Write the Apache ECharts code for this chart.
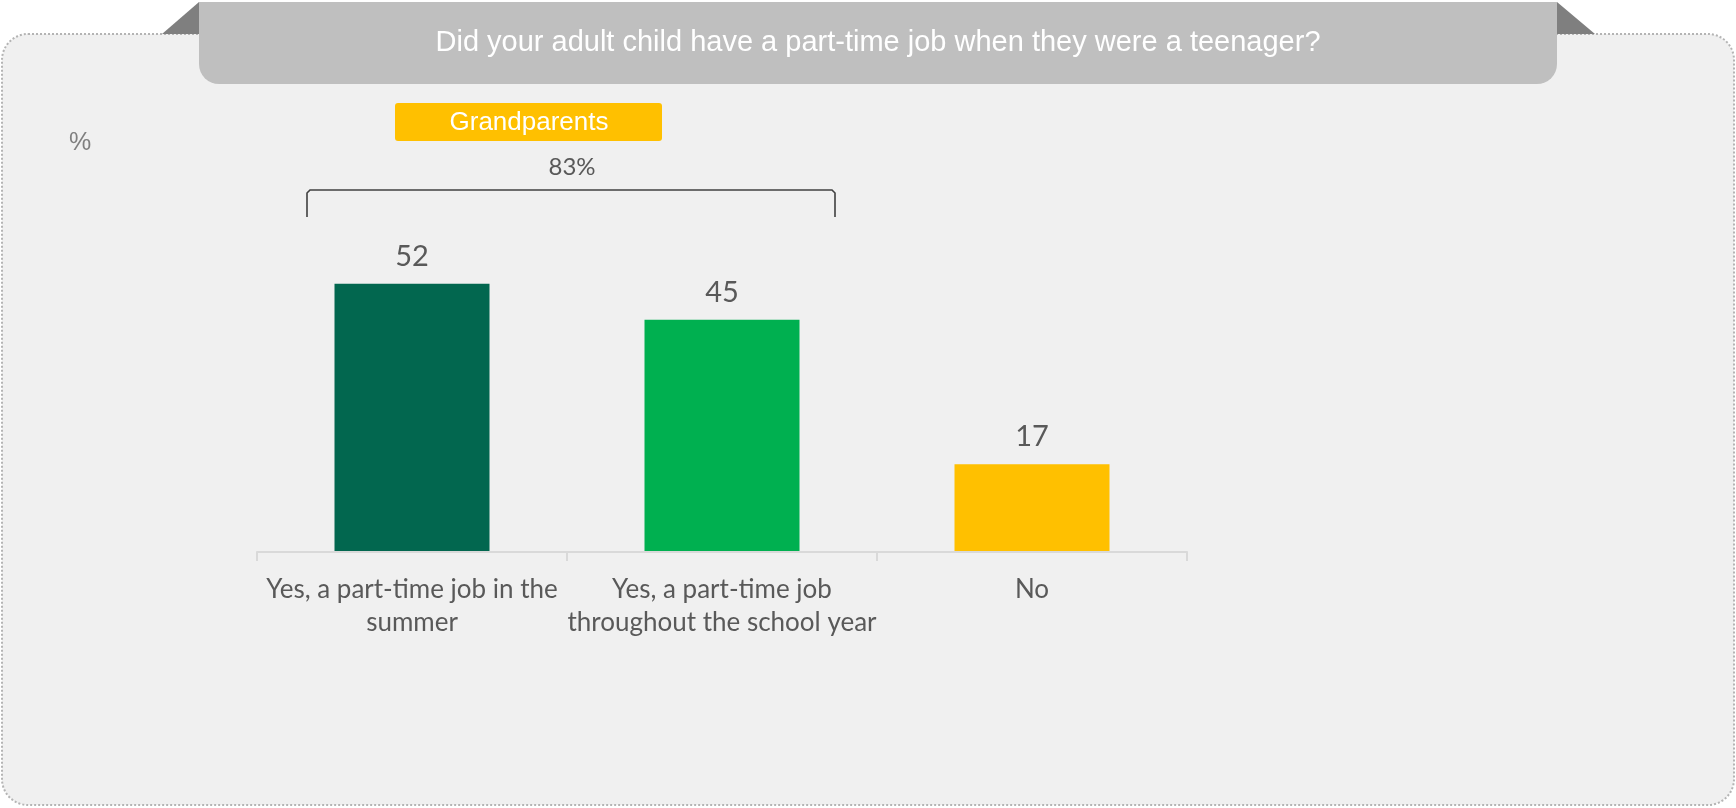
<!DOCTYPE html>
<html>
<head>
<meta charset="utf-8">
<title>Part-time job as a teenager</title>
<script src="https://cdn.jsdelivr.net/npm/echarts@6/dist/echarts.min.js"></script>
<style>
  html, body { margin: 0; padding: 0; background: #ffffff; }
  #chart { width: 1736px; height: 808px; }
</style>
</head>
<body>
<div id="chart"></div>
<script>
// Survey question and answers
const questionText = 'Did your adult child have a part-time job when they were a teenager?';
const groupName = 'Grandparents';
const unitLabel = '%';
const categories = [
  'Yes, a part-time job in the\nsummer',
  'Yes, a part-time job\nthroughout the school year',
  'No'
];
const values = [52, 45, 17];
const barColors = ['#02674F', '#00B050', '#FFC000'];
// Net share answering "yes" (bracket over the first two answers)
const netYesLabel = '83%';
const netYesRange = [0, 1];

const chart = echarts.init(document.getElementById('chart'), null, { renderer: 'canvas' });

const textGrey = '#595959';
const bodyFont = 'Lato, "Open Sans", sans-serif';
const headFont = '"Liberation Sans", Arial, sans-serif';

const option = {
  animation: false,
  backgroundColor: '#ffffff',
  grid: { left: 257, right: 549, top: 36, bottom: 256, containLabel: false },
  xAxis: {
    type: 'category',
    data: categories,
    axisLine: { show: true, lineStyle: { color: '#D9D9D9', width: 2 } },
    axisTick: { show: true, length: 9, lineStyle: { color: '#D9D9D9', width: 2 } },
    axisLabel: {
      color: textGrey,
      fontFamily: bodyFont,
      fontSize: 26,
      lineHeight: 33,
      margin: 21,
      interval: 0
    },
    z: 5
  },
  yAxis: {
    type: 'value',
    min: 0,
    max: 100,
    show: false,
    splitLine: { show: false }
  },
  series: [{
    type: 'bar',
    barWidth: '50%',
    data: values.map((v, i) => ({ value: v, itemStyle: { color: barColors[i] } })),
    label: {
      show: true,
      position: 'top',
      distance: 13,
      color: textGrey,
      fontFamily: bodyFont,
      fontSize: 29
    },
    z: 3
  }],
  graphic: []
};

chart.setOption(option);

// Annotation layer: panel, header tab, group badge, unit and the net bracket
function buildGraphics() {
  const c0 = chart.convertToPixel({ xAxisIndex: 0 }, categories[netYesRange[0]]);
  const c1 = chart.convertToPixel({ xAxisIndex: 0 }, categories[netYesRange[1]]);
  const band = c1 - c0;
  const bx0 = Math.round(c0 - 0.34 * band);
  const bx1 = Math.round(c1 + 0.365 * band);
  const byTop = 190, byBot = 217, r = 3;

  return [
    // rounded panel with dotted border
    {
      type: 'rect', z: -10, silent: true,
      shape: { x: 2, y: 34, width: 1732, height: 771, r: 26 },
      style: { fill: '#F0F0F0', stroke: '#B4B4B4', lineWidth: 2, lineDash: [2, 2] }
    },
    // folded corners of the header tab
    {
      type: 'polygon', z: -5, silent: true,
      shape: { points: [[162, 34], [199, 34], [199, 2]] },
      style: { fill: '#7F7F7F' }
    },
    {
      type: 'polygon', z: -5, silent: true,
      shape: { points: [[1557, 2], [1557, 34], [1595, 34]] },
      style: { fill: '#7F7F7F' }
    },
    // header tab
    {
      type: 'rect', z: -4, silent: true,
      shape: { x: 199, y: 2, width: 1358, height: 82, r: [0, 0, 20, 20] },
      style: { fill: '#BFBFBF' }
    },
    {
      type: 'text', z: 10, silent: true,
      x: 878, y: 43,
      style: {
        text: questionText, fill: '#FFFFFF',
        font: '29px ' + headFont,
        align: 'center', verticalAlign: 'middle'
      }
    },
    // group badge
    {
      type: 'rect', z: 2, silent: true,
      shape: { x: 395, y: 103, width: 267, height: 38, r: 3 },
      style: { fill: '#FFC000' }
    },
    {
      type: 'text', z: 10, silent: true,
      x: 529, y: 123,
      style: {
        text: groupName, fill: '#FFFFFF',
        font: '26px ' + headFont,
        align: 'center', verticalAlign: 'middle'
      }
    },
    // unit
    {
      type: 'text', z: 10, silent: true,
      x: 80, y: 143,
      style: {
        text: unitLabel, fill: '#7F7F7F',
        font: '25px ' + headFont,
        align: 'center', verticalAlign: 'middle'
      }
    },
    // net bracket: a line with its ends turned down
    {
      type: 'polyline', z: 10, silent: true,
      shape: {
        points: [
          [bx0, byBot], [bx0, byTop + r], [bx0 + r, byTop],
          [bx1 - r, byTop], [bx1, byTop + r], [bx1, byBot]
        ]
      },
      style: { fill: 'none', stroke: '#404040', lineWidth: 1.6 }
    },
    {
      type: 'text', z: 10, silent: true,
      x: Math.round((bx0 + bx1) / 2) + 1, y: 167,
      style: {
        text: netYesLabel, fill: textGrey,
        font: '24px ' + bodyFont,
        align: 'center', verticalAlign: 'middle'
      }
    }
  ];
}

chart.setOption({ graphic: buildGraphics() });
</script>
</body>
</html>
